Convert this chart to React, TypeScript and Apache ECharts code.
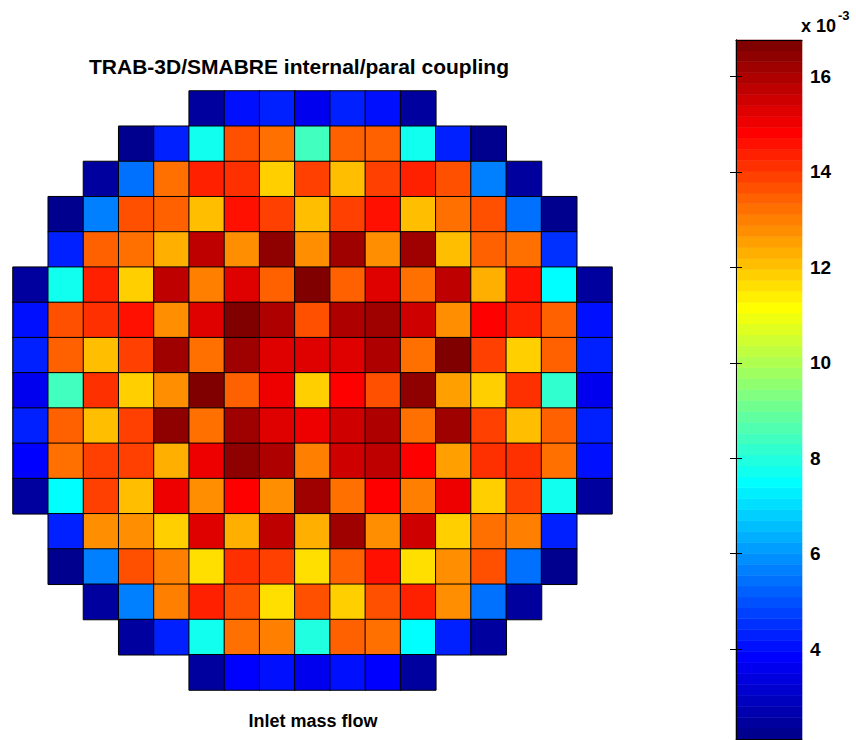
import React, { useEffect, useRef } from "react";
import * as echarts from "echarts";

// ---------- texts ----------
const TITLE = "TRAB-3D/SMABRE internal/paral coupling";
const X_LABEL = "Inlet mass flow";
const SCALE_NOTE = "x 10";
const SCALE_EXP = "-3";

// ---------- colour bar (values in units of 1e-3) ----------
const CBAR_MIN = 2.12;
const CBAR_MAX = 16.76;
const CBAR_TICKS = [4, 6, 8, 10, 12, 14, 16];
const N_COLORS = 64;

// ---------- core map: first occupied column of each row, then row values (x 1e-3) ----------
const rowStart = [5, 3, 2, 1, 1, 0, 0, 0, 0, 0, 0, 0, 1, 1, 2, 3, 5];

const row00 = [2.46, 4.06, 4.29, 3.61, 4.29, 4.06, 2.46];
const row01 = [2.23, 4.29, 7.72, 13.67, 13.21, 8.41, 13.44, 13.44, 7.72, 4.29, 2.23];
const row02 = [2.46, 5.44, 13.21, 14.36, 14.13, 11.84, 13.9, 12.07, 13.9, 14.36, 13.67, 5.67, 2.46];
const row03 = [2.23, 5.67, 13.67, 13.44, 12.07, 14.59, 13.9, 12.07, 13.9, 14.59, 12.07, 13.21, 13.67, 5.44, 2.23];
const row04 = [4.29, 13.44, 13.21, 12.3, 15.73, 12.76, 16.42, 12.76, 16.19, 12.76, 16.19, 12.07, 13.44, 13.21, 4.52];
const row05 = [2.46, 7.72, 14.36, 11.84, 15.73, 12.99, 15.27, 13.44, 16.65, 13.44, 15.27, 13.21, 15.73, 12.3, 14.59, 7.5, 2.46];
const row06 = [4.06, 13.67, 14.13, 14.59, 12.76, 15.27, 16.65, 15.96, 13.67, 15.96, 16.19, 15.5, 12.76, 14.82, 14.36, 13.44, 4.06];
const row07 = [4.29, 13.44, 12.07, 13.9, 16.19, 13.21, 16.19, 15.27, 15.27, 15.27, 15.96, 13.21, 16.65, 13.9, 11.84, 13.44, 4.29];
const row08 = [3.61, 8.41, 14.13, 11.84, 12.76, 16.65, 13.44, 15.04, 11.84, 14.82, 13.67, 16.42, 12.53, 11.84, 14.13, 8.18, 3.61];
const row09 = [4.29, 13.44, 12.07, 13.9, 16.42, 13.21, 16.19, 15.27, 15.04, 15.5, 15.96, 13.21, 16.19, 13.9, 12.07, 13.44, 4.29];
const row10 = [3.84, 13.21, 13.9, 13.9, 12.3, 15.04, 16.42, 15.96, 12.99, 15.5, 15.73, 14.82, 12.53, 14.13, 14.13, 13.21, 4.06];
const row11 = [2.46, 7.5, 13.9, 12.07, 15.04, 12.76, 14.82, 12.76, 16.19, 13.21, 14.82, 12.99, 15.04, 11.84, 13.9, 7.72, 2.46];
const row12 = [4.29, 12.76, 12.76, 11.84, 15.27, 12.3, 15.73, 12.3, 16.19, 12.76, 15.5, 11.84, 13.21, 12.99, 4.29];
const row13 = [2.23, 5.67, 13.67, 12.99, 11.61, 14.13, 13.9, 11.61, 13.44, 14.59, 11.61, 12.76, 13.67, 5.44, 2.23];
const row14 = [2.46, 5.67, 12.99, 14.36, 13.67, 11.61, 13.67, 11.84, 13.67, 14.36, 12.76, 5.44, 2.46];
const row15 = [2.46, 4.29, 7.72, 13.21, 12.99, 7.95, 13.44, 13.21, 7.5, 4.29, 2.46];
const row16 = [2.46, 3.84, 4.06, 3.61, 4.06, 3.84, 2.46];

const coreRows = [row00, row01, row02, row03, row04, row05, row06, row07, row08, row09, row10, row11, row12, row13, row14, row15, row16];
const GRID_N = 17;

const FONT = "'Liberation Sans', Arial, Helvetica, sans-serif";

// MATLAB-style jet colormap
function jetColormap(n: number): string[] {
  const m = Math.ceil(n / 4);
  const u: number[] = [];
  for (let i = 1; i <= m; i++) u.push(i / m);
  for (let i = 1; i < m; i++) u.push(1);
  for (let i = m; i >= 1; i--) u.push(i / m);
  const off = Math.ceil(m / 2) - (n % 4 === 1 ? 1 : 0);
  const R = new Array(n).fill(0);
  const G = new Array(n).fill(0);
  const B = new Array(n).fill(0);
  const gI: number[] = [];
  const rI: number[] = [];
  const bI: number[] = [];
  for (let k = 1; k <= u.length; k++) {
    const g = off + k;
    if (g <= n) gI.push(g);
    if (g + m <= n) rI.push(g + m);
    if (g - m >= 1) bI.push(g - m);
  }
  gI.forEach((idx, i) => (G[idx - 1] = u[i]));
  rI.forEach((idx, i) => (R[idx - 1] = u[i]));
  bI.forEach((idx, i) => (B[idx - 1] = u[u.length - bI.length + i]));
  const h = (v: number) => Math.round(v * 255).toString(16).padStart(2, "0");
  return R.map((_, i) => "#" + h(R[i]) + h(G[i]) + h(B[i]));
}

export default function App() {
  const ref = useRef<HTMLDivElement>(null);

  useEffect(() => {
    if (!ref.current) return;
    const chart = echarts.init(ref.current, undefined, { renderer: "svg" });

    const JET = jetColormap(N_COLORS);
    const band = (CBAR_MAX - CBAR_MIN) / N_COLORS;

    const pieces = JET.map((c, i) => {
      const p: any = { gte: CBAR_MIN + i * band, color: c };
      if (i < N_COLORS - 1) p.lt = CBAR_MIN + (i + 1) * band;
      else p.lte = CBAR_MAX + 1;
      return p;
    });
    pieces[0].gte = CBAR_MIN - 1;

    const heatData: number[][] = [];
    coreRows.forEach((row, r) => {
      row.forEach((v, j) => heatData.push([rowStart[r] + j, r, v]));
    });

    const cats = Array.from({ length: GRID_N }, (_, i) => String(i));
    const barData = JET.map((_, i) => [0.5, CBAR_MIN + (i + 0.5) * band, i]);

    const option: any = {
      animation: false,
      backgroundColor: "#ffffff",
      grid: [
        { left: 13, top: 91, width: 599, height: 599 },
        { left: 736, top: 40, width: 66, height: 699 },
      ],
      xAxis: [
        { type: "category", gridIndex: 0, data: cats, show: false },
        {
          type: "value", gridIndex: 1, min: 0, max: 1, position: "top", z: 10,
          axisLine: { show: true, lineStyle: { color: "#000", width: 1 } },
          axisTick: { show: false }, axisLabel: { show: false }, splitLine: { show: false },
        },
        {
          type: "value", gridIndex: 1, min: 0, max: 1, position: "bottom", z: 10,
          axisLine: { show: true, lineStyle: { color: "#000", width: 1 } },
          axisTick: { show: false }, axisLabel: { show: false }, splitLine: { show: false },
        },
      ],
      yAxis: [
        { type: "category", gridIndex: 0, data: cats, inverse: true, show: false },
        {
          type: "value", gridIndex: 1, min: CBAR_MIN, max: CBAR_MAX, position: "left", z: 10,
          axisLine: { show: true, lineStyle: { color: "#000", width: 1 } },
          axisTick: { show: true, inside: true, length: 6, customValues: CBAR_TICKS, lineStyle: { color: "#000" } },
          axisLabel: { show: false },
          splitLine: { show: false },
        },
        {
          type: "value", gridIndex: 1, min: CBAR_MIN, max: CBAR_MAX, position: "right", z: 10,
          axisLine: { show: true, lineStyle: { color: "#000", width: 1 } },
          axisTick: { show: true, inside: true, length: 6, customValues: CBAR_TICKS, lineStyle: { color: "#000" } },
          axisLabel: {
            show: true, customValues: CBAR_TICKS, margin: 8, color: "#000",
            fontSize: 19, fontWeight: "bold", fontFamily: FONT,
          },
          splitLine: { show: false },
        },
      ],
      visualMap: {
        type: "piecewise",
        show: false,
        seriesIndex: 0,
        dimension: 2,
        pieces,
      },
      series: [
        {
          type: "heatmap",
          xAxisIndex: 0,
          yAxisIndex: 0,
          data: heatData,
          itemStyle: { borderColor: "#000", borderWidth: 1 },
          emphasis: { disabled: true },
          silent: true,
        },
        {
          type: "custom",
          xAxisIndex: 1,
          yAxisIndex: 1,
          data: barData,
          silent: true,
          clip: false,
          renderItem: (_params: any, api: any) => {
            const i = api.value(2);
            const lo = CBAR_MIN + i * band;
            const hi = lo + band;
            const p0 = api.coord([0, hi]);
            const p1 = api.coord([1, lo]);
            return {
              type: "rect",
              shape: { x: p0[0], y: p0[1], width: p1[0] - p0[0], height: p1[1] - p0[1] },
              style: { fill: JET[i], stroke: JET[i], lineWidth: 0.6 },
            };
          },
        },
      ],
      graphic: [
        {
          type: "text", left: undefined, x: 299, y: 66,
          style: {
            text: TITLE, fill: "#000", font: `bold 21px ${FONT}`,
            textAlign: "center", textVerticalAlign: "middle",
          },
        },
        {
          type: "text", x: 313, y: 721,
          style: {
            text: X_LABEL, fill: "#000", font: `bold 18px ${FONT}`,
            textAlign: "center", textVerticalAlign: "middle",
          },
        },
        {
          type: "text", x: 801, y: 26,
          style: {
            text: SCALE_NOTE, fill: "#000", font: `bold 18px ${FONT}`,
            textAlign: "left", textVerticalAlign: "middle",
          },
        },
        {
          type: "text", x: 838, y: 15,
          style: {
            text: SCALE_EXP, fill: "#000", font: `bold 13px ${FONT}`,
            textAlign: "left", textVerticalAlign: "middle",
          },
        },
      ],
    };

    chart.setOption(option);
    return () => chart.dispose();
  }, []);

  return (
    <div
      ref={ref}
      style={{ position: "fixed", left: 0, top: 0, width: 856, height: 740, background: "#fff" }}
    />
  );
}
